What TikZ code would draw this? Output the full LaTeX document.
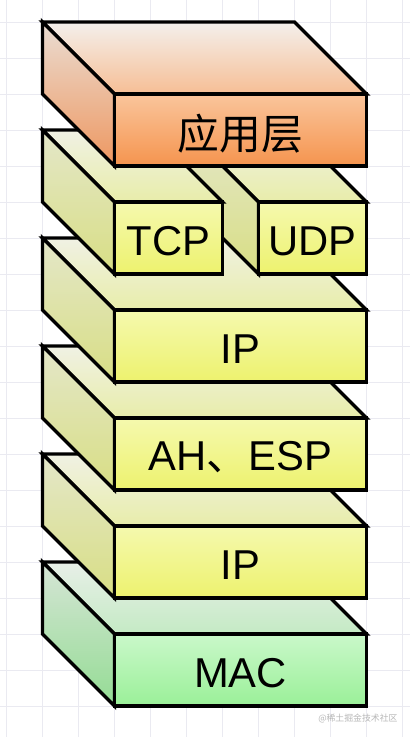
\documentclass[tikz,border=0pt]{standalone}
\usepackage{fontspec}
\setmainfont{Liberation Sans}
\newfontfamily\cjkfont{Noto Sans CJK SC}
\usepackage{tikz}
\usetikzlibrary{calc}

\definecolor{gridline}{HTML}{EAEAF1}
\definecolor{ortopA}{HTML}{F4F0EC}
\definecolor{ortopB}{HTML}{F6BE95}
\definecolor{orsideA}{HTML}{EADDD3}
\definecolor{orsideB}{HTML}{EE9760}
\definecolor{orfrontA}{HTML}{FAC59C}
\definecolor{orfrontB}{HTML}{F5944E}
\definecolor{yetopA}{HTML}{F0F1E4}
\definecolor{yetopB}{HTML}{E8EDAA}
\definecolor{yesideA}{HTML}{E4E7C9}
\definecolor{yesideB}{HTML}{D8DE84}
\definecolor{yefrontA}{HTML}{F5F9AE}
\definecolor{yefrontB}{HTML}{EDF26E}
\definecolor{grtopA}{HTML}{E8EFE8}
\definecolor{grtopB}{HTML}{C4EAC4}
\definecolor{grsideA}{HTML}{D6E5D6}
\definecolor{grsideB}{HTML}{94DC94}
\definecolor{grfrontA}{HTML}{CAF8CA}
\definecolor{grfrontB}{HTML}{9AF098}

\tikzset{
  slabline/.style={line width=2.7pt, draw=black},
  slablabel/.style={font=\fontsize{33}{33}\selectfont, inner sep=0pt, yshift=-2.5pt}
}
% one block: [colours](back left x : front right x : top y){name}{text}
\def\slab[#1](#2:#3:#4)#5#6{
  \draw[slabline, top color=#1topA, bottom color=#1topB] (#2,#4) -- ({#3-2},#4) -- (#3,{#4-2}) -- ({#2+2},{#4-2}) -- cycle;
  \draw[slabline, top color=#1sideA, bottom color=#1sideB] (#2,#4) -- ({#2+2},{#4-2}) -- ({#2+2},{#4-4}) -- (#2,{#4-2}) -- cycle;
  \draw[slabline, top color=#1frontA, bottom color=#1frontB] ({#2+2},{#4-2}) rectangle (#3,{#4-4});
  \node[slablabel] (#5) at ({(#2+#3)/2+1},{#4-3}) {#6};
}

\begin{document}
\begin{tikzpicture}
		%%%%% START %%%%%
		
		\fill[white] (-0.1806, 0.6111) rectangle (11.2083, -19.8611);
		\useasboundingbox (-0.1806, 0.6111) rectangle (11.2083, -19.8611);
		\draw[line width=0.6pt, color=gridline] (-0.1806, -19.8611) grid (11.2083, 0.6111);
		
		\slab[gr](1:10:-15){mac}{MAC}
		\slab[ye](1:10:-12){iplow}{IP}
		\slab[ye](1:10:-9){ahesp}{AH{\cjkfont 、}ESP}
		\slab[ye](1:10:-6){iphigh}{IP}
		\slab[ye](5:10:-3){udp}{UDP}
		\slab[ye](1:6:-3){tcp}{TCP}
		\slab[or](1:10:0){app}{{\cjkfont 应用层}}
		
		\node[font=\cjkfont\fontsize{7}{7}\selectfont, color=black!28, inner sep=0pt] (wmark) at (9.76, -19.36) {@稀土掘金技术社区};
		
		%%%%% END %%%%%
	\end{tikzpicture}
\end{document}
